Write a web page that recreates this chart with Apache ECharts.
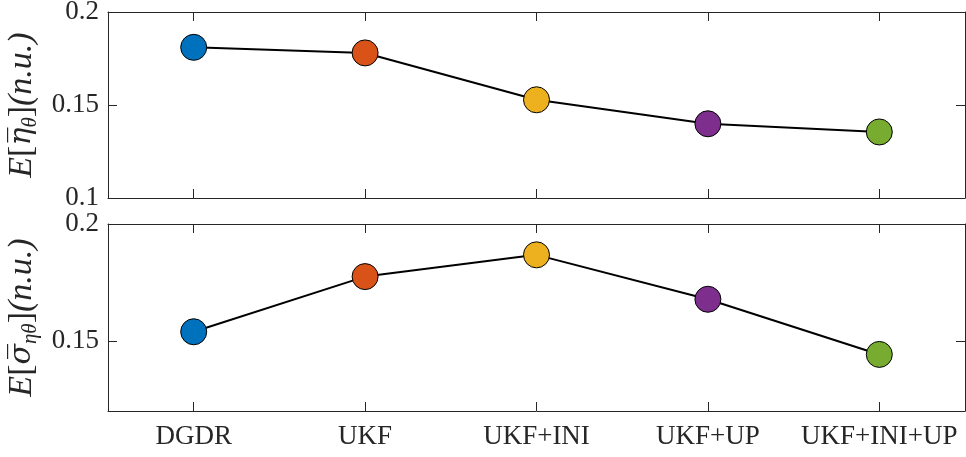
<!DOCTYPE html>
<html>
<head>
<meta charset="utf-8">
<script src="https://cdn.jsdelivr.net/npm/echarts@6/dist/echarts.min.js"></script>
<style>
html,body{margin:0;padding:0;background:#fff;}
#chart{width:966px;height:457px;}
</style>
</head>
<body>
<div id="chart"></div>
<script>
// ---- data ----
const categories = ['DGDR', 'UKF', 'UKF+INI', 'UKF+UP', 'UKF+INI+UP'];
const etaValues = [0.1810, 0.1780, 0.1528, 0.1399, 0.1355];
const sigmaValues = [0.1539, 0.1775, 0.1868, 0.1678, 0.1442];
const topTicks = [0.1, 0.15, 0.2];
const bottomTicks = [0.15, 0.2];

// ---- style ----
const markerColors = ['#0072BD', '#D95319', '#EDB120', '#7E2F8E', '#77AC30'];
const axisColor = '#262626';
const FONT = 'Liberation Serif';

const chart = echarts.init(document.getElementById('chart'), null, {renderer: 'canvas'});

function xAx(grid, pos, showLabels) {
  return {
    type: 'category', gridIndex: grid, position: pos, data: categories,
    boundaryGap: true,
    axisLine: {show: true, lineStyle: {color: axisColor, width: 1}},
    axisTick: {show: true, inside: true, alignWithLabel: true, interval: 0, length: 9, lineStyle: {color: axisColor}},
    axisLabel: {show: showLabels, interval: 0, color: axisColor, fontFamily: FONT, fontSize: 27, margin: 12},
    splitLine: {show: false}
  };
}
const richName = {
  i: {fontFamily: FONT, fontStyle: 'italic', fontSize: 34, color: axisColor},
  g: {fontFamily: 'DejaVu Serif', fontStyle: 'italic', fontSize: 30, color: axisColor},
  n: {fontFamily: FONT, fontSize: 34, color: axisColor},
  s: {fontFamily: FONT, fontStyle: 'italic', fontSize: 21, color: axisColor, padding: [17, 0, 0, 0]}
};
function yAx(grid, pos, min, max, ticks, name) {
  const o = {
    type: 'value', gridIndex: grid, position: pos, min: min, max: max,
    axisLine: {show: true, lineStyle: {color: axisColor, width: 1}},
    axisTick: {show: true, inside: true, length: 9, customValues: ticks, lineStyle: {color: axisColor}},
    axisLabel: {show: pos === 'left', customValues: ticks, color: axisColor, fontFamily: FONT, fontSize: 27, margin: 9,
      formatter: v => String(+v.toFixed(4))},
    splitLine: {show: false}
  };
  if (name) {
    o.name = name;
    o.nameLocation = 'middle';
    o.nameRotate = 90;
    o.nameGap = 64;
    o.nameTextStyle = {rich: richName, color: axisColor};
  }
  return o;
}

function series(xi, yi, vals) {
  return {
    type: 'line', xAxisIndex: xi, yAxisIndex: yi,
    data: vals.map((v, k) => ({value: v, itemStyle: {color: markerColors[k]}})),
    symbol: 'circle', symbolSize: 26,
    itemStyle: {borderColor: '#000', borderWidth: 1},
    lineStyle: {color: '#000', width: 2},
    z: 3
  };
}

chart.setOption({
  animation: false,
  backgroundColor: '#fff',
  grid: [
    {left: 108, right: 1, top: 12, height: 186, containLabel: false, outerBoundsMode: 'none'},
    {left: 108, right: 1, top: 224, height: 187, containLabel: false, outerBoundsMode: 'none'}
  ],
  xAxis: [xAx(0, 'bottom', false), xAx(0, 'top', false), xAx(1, 'bottom', true), xAx(1, 'top', false)],
  yAxis: [
    yAx(0, 'left', 0.1, 0.2, topTicks, '{i|E}{n|[}{g|\u03B7\u0305}{s|\u03B8}{n|]}{i|(n.u.)}'),
    yAx(0, 'right', 0.1, 0.2, topTicks),
    yAx(1, 'left', 0.12, 0.2, bottomTicks, '{i|E}{n|[}{g|\u03C3\u0305}{s|\u03B7\u03B8}{n|]}{i|(n.u.)}'),
    yAx(1, 'right', 0.12, 0.2, bottomTicks)
  ],
  series: [series(0, 0, etaValues), series(2, 2, sigmaValues)]
});
</script>
</body>
</html>
